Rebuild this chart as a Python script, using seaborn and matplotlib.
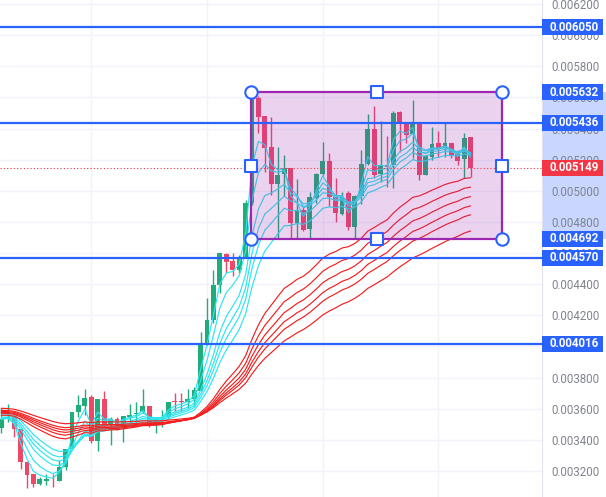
import numpy as np
import pandas as pd
import matplotlib
matplotlib.use("Agg")
import matplotlib.pyplot as plt
import matplotlib.transforms as mtransforms
from matplotlib.patches import Rectangle
import seaborn as sns

# -------------------------------
# 1. Candle data
# -------------------------------
opens = [0.003476, 0.003534, 0.003553, 0.003470, 0.003258, 0.003181, 0.003117, 0.003136, 0.003149, 0.003136,
         0.003226, 0.003341, 0.003579, 0.003618, 0.003675, 0.003393, 0.003663, 0.003502, 0.003534, 0.003483,
         0.003547, 0.003566, 0.003579, 0.003618, 0.003508, 0.003534, 0.003547, 0.003650, 0.003650, 0.003643,
         0.003663, 0.003714, 0.004022, 0.004170, 0.004395, 0.004594, 0.004549, 0.004491, 0.004575, 0.004922,
         0.005596, 0.005481, 0.005281, 0.005044, 0.005108, 0.005147, 0.004793, 0.004877, 0.004755, 0.004954,
         0.005108, 0.005191, 0.004960, 0.004851, 0.004986, 0.004768, 0.004967, 0.005172, 0.005397, 0.005108,
         0.005166, 0.005166, 0.005506, 0.005436, 0.005365, 0.005442, 0.005102, 0.005217, 0.005307, 0.005275,
         0.005307, 0.005243, 0.005204, 0.005346]
highs = [0.003605, 0.003630, 0.003556, 0.003472, 0.003260, 0.003183, 0.003162, 0.003181, 0.003181, 0.003271,
         0.003343, 0.003581, 0.003688, 0.003727, 0.003688, 0.003665, 0.003714, 0.003547, 0.003547, 0.003555,
         0.003630, 0.003643, 0.003727, 0.003620, 0.003547, 0.003592, 0.003645, 0.003701, 0.003701, 0.003727,
         0.003740, 0.004093, 0.004311, 0.004491, 0.004602, 0.004600, 0.004600, 0.004588, 0.004941, 0.005632,
         0.005610, 0.005481, 0.005474, 0.005281, 0.005230, 0.005149, 0.005076, 0.004896, 0.004992, 0.005114,
         0.005314, 0.005243, 0.005082, 0.004992, 0.004999, 0.004970, 0.005262, 0.005493, 0.005545, 0.005448,
         0.005352, 0.005513, 0.005513, 0.005438, 0.005583, 0.005444, 0.005226, 0.005410, 0.005384, 0.005442,
         0.005309, 0.005262, 0.005371, 0.005348]
lows = [0.003444, 0.003515, 0.003418, 0.003213, 0.003091, 0.003097, 0.003110, 0.003110, 0.003097, 0.003134,
        0.003206, 0.003339, 0.003547, 0.003560, 0.003380, 0.003329, 0.003487, 0.003367, 0.003463, 0.003386,
        0.003483, 0.003515, 0.003573, 0.003483, 0.003444, 0.003483, 0.003534, 0.003579, 0.003585, 0.003605,
        0.003618, 0.003712, 0.004009, 0.004151, 0.004344, 0.004472, 0.004453, 0.004472, 0.004568, 0.004909,
        0.005371, 0.005121, 0.004973, 0.004697, 0.004967, 0.004692, 0.004697, 0.004742, 0.004697, 0.004922,
        0.005102, 0.004902, 0.004800, 0.004845, 0.004748, 0.004697, 0.004915, 0.005166, 0.005082, 0.005057,
        0.005024, 0.005018, 0.005249, 0.005307, 0.005211, 0.005069, 0.005100, 0.005198, 0.005217, 0.005217,
        0.005211, 0.005166, 0.005082, 0.005089]
closes = [0.003534, 0.003547, 0.003470, 0.003258, 0.003174, 0.003117, 0.003149, 0.003149, 0.003146, 0.003226,
          0.003341, 0.003579, 0.003624, 0.003669, 0.003393, 0.003663, 0.003489, 0.003534, 0.003483, 0.003553,
          0.003560, 0.003573, 0.003618, 0.003496, 0.003534, 0.003547, 0.003643, 0.003643, 0.003643, 0.003663,
          0.003720, 0.004022, 0.004170, 0.004395, 0.004600, 0.004543, 0.004491, 0.004575, 0.004922, 0.005596,
          0.005474, 0.005275, 0.005044, 0.005102, 0.005147, 0.004793, 0.004877, 0.004748, 0.004960, 0.005108,
          0.005191, 0.004960, 0.004857, 0.004960, 0.004768, 0.004967, 0.005172, 0.005397, 0.005102, 0.005166,
          0.005153, 0.005500, 0.005436, 0.005359, 0.005442, 0.005102, 0.005224, 0.005301, 0.005275, 0.005307,
          0.005230, 0.005191, 0.005339, 0.005149]

# GMMA: short (cyan) and long (red) EMA spans, with starting values from the left edge
short_spans = [3, 5, 8, 10, 12, 15]
short_seeds = [0.003528, 0.003534, 0.003547, 0.003560, 0.003573, 0.003585]
long_spans = [30, 35, 40, 45, 50, 60]
long_seeds = [0.003560, 0.003573, 0.003579, 0.003585, 0.003592, 0.003605]

# horizontal levels and the drawn range box
level_lines = [0.006050, 0.005436, 0.004570, 0.004016]
range_top = 0.005632
range_bottom = 0.004692
last_price = 0.005149
price_ticks = [0.0032, 0.0034, 0.0036, 0.0038, 0.0040, 0.0042, 0.0044, 0.0046,
               0.0048, 0.0050, 0.0052, 0.0054, 0.0056, 0.0058, 0.0060, 0.0062]

GREEN = "#20ad7a"
RED = "#ee4867"
BLUE = "#2962ff"
PURPLE = "#9c27b0"

# -------------------------------
# 2. EMA frame
# -------------------------------
rows = []
for kind, spans, seeds in [("short", short_spans, short_seeds), ("long", long_spans, long_seeds)]:
    for n, s in zip(spans, seeds):
        ema = pd.Series([s] + closes).ewm(span=n, adjust=False).mean().iloc[1:].to_numpy()
        for i, v in enumerate(ema):
            rows.append({"bar": i, "value": v, "ema": f"{kind}{n}"})
ema_df = pd.DataFrame(rows)
palette = {f"short{n}": "#2ee5ef" for n in short_spans}
palette.update({f"long{n}": "#f41e1e" for n in long_spans})

# -------------------------------
# 3. Plot
# -------------------------------
sns.set_style("white")
plt.rcParams["font.family"] = ["Roboto", "DejaVu Sans"]

fig = plt.figure(figsize=(6.06, 4.97), dpi=100)
ax = fig.add_axes([0, 0, 542 / 606, 1])

o = np.array(opens); h = np.array(highs); l = np.array(lows); c = np.array(closes)
idx = np.arange(len(c))
cols = np.where(c >= o, GREEN, RED)
ax.vlines(idx, l, h, colors=cols, lw=1, zorder=3)
ax.bar(idx, np.maximum(np.abs(c - o), 2e-6), bottom=np.minimum(o, c), width=0.75,
       color=cols, linewidth=0, zorder=3)

sns.lineplot(data=ema_df, x="bar", y="value", hue="ema", palette=palette,
             linewidth=0.85, legend=False, ax=ax, zorder=4)

# range box
box_left, box_right = 38.85, 77.87
ax.add_patch(Rectangle((box_left, range_bottom), box_right - box_left, range_top - range_bottom,
                       fc=PURPLE, alpha=0.2, lw=0, zorder=5))
ax.add_patch(Rectangle((box_left, range_bottom), box_right - box_left, range_top - range_bottom,
                       fc="none", ec=PURPLE, lw=1.6, zorder=5.5))

for v in level_lines:
    ax.axhline(v, color=BLUE, lw=1.6, zorder=6)
ax.axhline(last_price, color="#f23645", lw=0.8, ls=(0, (1, 2)), zorder=6)

mid_x = (box_left + box_right) / 2
mid_y = (range_top + range_bottom) / 2
ax.scatter([box_left, box_right, box_left, box_right], [range_top, range_top, range_bottom, range_bottom],
           s=80, marker="o", facecolor="white", edgecolor=BLUE, linewidth=1.5, zorder=7)
ax.scatter([mid_x, mid_x, box_left, box_right], [range_top, range_bottom, mid_y, mid_y],
           s=70, marker="s", facecolor="white", edgecolor=BLUE, linewidth=1.5, zorder=7)

# grid
for b in [14, 32, 50, 68]:
    ax.axvline(b, color="#f0f3fa", lw=1, zorder=0)
for v in price_ticks:
    ax.axhline(v, color="#f0f3fa", lw=1, zorder=0)

ax.set_xlim(-0.2, 84.1)
ax.set_ylim(0.0030327, 0.0062257)
ax.set_xticks([])
ax.set_xlabel("")
ax.set_ylabel("")
ax.yaxis.tick_right()
ax.set_yticks(price_ticks)
ax.set_yticklabels([f"{v:.6f}" for v in price_ticks])
ax.tick_params(axis="y", length=0, pad=7, labelsize=8.3, labelcolor="#80848f")
for side in ["top", "left", "bottom"]:
    ax.spines[side].set_visible(False)
ax.spines["right"].set_color("#e0e3eb")

# price-axis labels
trans = mtransforms.blended_transform_factory(ax.transAxes, ax.transData)
ax.add_patch(Rectangle((1.0, range_bottom), 64 / 542, range_top - range_bottom, transform=trans,
                       fc=BLUE, alpha=0.25, lw=0, clip_on=False, zorder=0.5))
box_h = 16 * 6.424e-6
for v, fc in [(0.006050, BLUE), (range_top, BLUE), (0.005436, BLUE), (last_price, "#f23645"),
              (range_bottom, BLUE), (0.004570, BLUE), (0.004016, BLUE)]:
    ax.add_patch(Rectangle((1.0, v - box_h / 2), 61 / 542, box_h, transform=trans,
                           fc=fc, lw=0, clip_on=False, zorder=10))
    ax.text(1.0 + 8 / 542, v, f"{v:.6f}", transform=trans, color="white", fontsize=8.3,
            fontweight="bold", va="center", ha="left", zorder=11, clip_on=False)

fig.savefig("out.png", dpi=100)
